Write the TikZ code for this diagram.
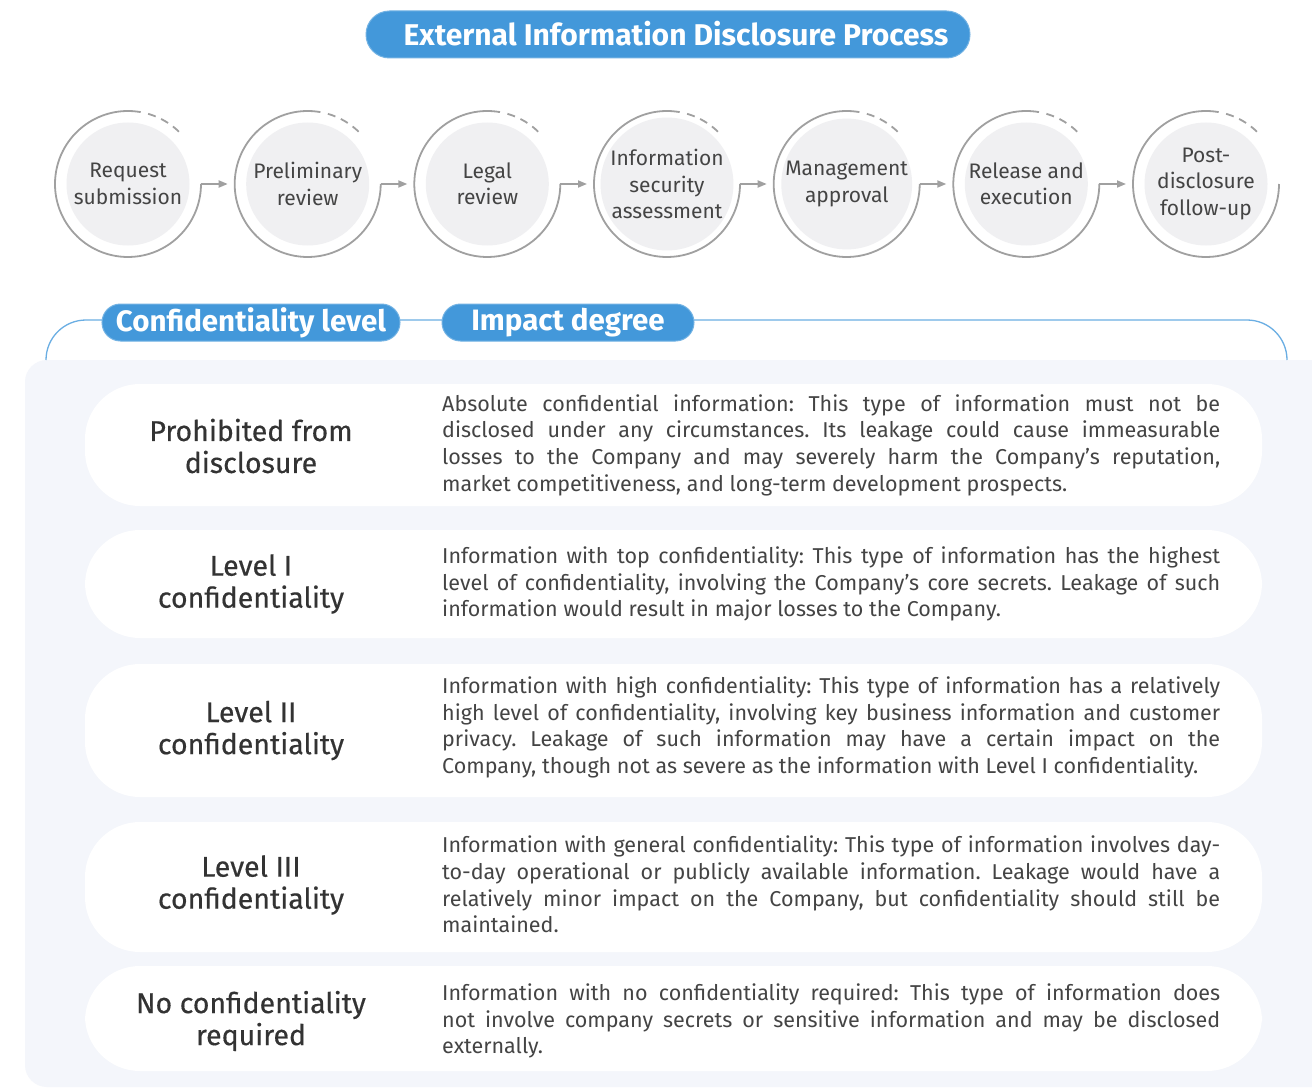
\documentclass[tikz,border=0pt]{standalone}
\usepackage{fontspec}
\setmainfont{Fira Sans}
\newfontfamily\medfont[FakeBold=0.4]{Fira Sans}
\usetikzlibrary{arrows.meta}
\definecolor{mainblue}{HTML}{4398DA}
\definecolor{lineblue}{HTML}{6AAEE3}
\definecolor{panelbg}{HTML}{F4F6FB}
\definecolor{innerfill}{HTML}{F0F0F2}
\definecolor{ringgray}{HTML}{A0A0A0}
\definecolor{txtdark}{HTML}{444444}
\definecolor{lbldark}{HTML}{333333}
\newcommand\jl[1]{\makebox[778pt][s]{#1}}
\frenchspacing
\tikzset{
  ringnode/.style={circle, minimum size=146pt, inner sep=0pt, outer sep=0pt, draw=none},
  innernode/.style={circle, minimum size=123pt, inner sep=0pt, fill=innerfill, text=txtdark, align=center,
     font=\fontsize{21}{26.5}\selectfont},
  ring/.style={draw=ringgray, line width=1.8pt},
  ringdash/.style={draw=ringgray, line width=1.8pt, dash pattern=on 8pt off 6pt},
  steparrow/.style={draw=ringgray, line width=1.8pt, -{Triangle[length=9pt,width=7pt]}},
  pill/.style={fill=mainblue, draw=mainblue!75!white, line width=1pt, text=white, inner sep=0pt,
     font=\fontsize{29.5}{32}\selectfont\bfseries},
  rowbox/.style={fill=white, draw=none, rounded corners=55pt, minimum width=1177pt, inner sep=0pt},
  rowlabel/.style={text=lbldark, align=center, inner sep=0pt, font=\fontsize{28.5}{32}\selectfont\medfont},
  rowtext/.style={text=txtdark, anchor=west, align=left, inner sep=0pt, font=\fontsize{21.5}{26.7}\selectfont\frenchspacing},
}
\begin{document}
\begin{tikzpicture}[x=1pt,y=1pt]
\useasboundingbox (0,0) rectangle (1312,-1089);
\fill[white] (0,0) rectangle (1312,-1089);

% title
\node[pill, rounded corners=23.5pt, minimum width=604pt, minimum height=47pt] (title) at (668,-34.5) {};
\node[text=white, inner sep=0pt, font=\fontsize{30}{32}\selectfont\bfseries] (titletext) at (676,-34) {External Information Disclosure Process};

% process circles
\foreach \n/\x/\t in {1/128/{Request\\submission},
                      2/307.7/{Preliminary\\review},
                      3/487.3/{Legal\\review},
                      4/667/{Information\\security\\assessment},
                      5/846.7/{Management\\approval},
                      6/1026.3/{Release and\\execution},
                      7/1206/{Post-\\disclosure\\follow-up}} {
  \node[ringnode] (c\n) at (\x,-184) {};
  \node[innernode] (i\n) at (\x,-184) {\t};
  \draw[ring] (c\n.80) arc[start angle=80, end angle=360, radius=73pt];
  \draw[ringdash] (c\n.74) arc[start angle=74, end angle=44, radius=73pt];
}
\foreach \a/\b in {1/2,2/3,3/4,4/5,5/6,6/7} {
  \draw[steparrow] (c\a.east) -- ([xshift=-7pt]c\b.west);
}

% panel background
\fill[panelbg, rounded corners=22pt] (25,-360) rectangle (1340,-1087);

% header line
\draw[lineblue, line width=1.3pt, rounded corners=40pt] (46,-360) -- (46,-320) -- (1287,-320) -- (1287,-360);
\node[pill, rounded corners=18.5pt, minimum width=298pt, minimum height=37pt] (cl) at (251,-322.5) {Confidentiality level};
\node[pill, rounded corners=18.5pt, minimum width=252pt, minimum height=37pt] (id) at (568,-322.5) {Impact degree};

% rows
\node[rowbox, minimum height=122pt] (r1) at (673.5,-445) {};
\node[rowlabel] (l1) at (251,-446) {Prohibited from\\disclosure};
\node[rowtext] (t1) at (442,-445) {\jl{Absolute confidential information: This type of information must not be}\\
\jl{disclosed under any circumstances. Its leakage could cause immeasurable}\\
\jl{losses to the Company and may severely harm the Company’s reputation,}\\
market competitiveness, and long-term development prospects.};

\node[rowbox, minimum height=108pt] (r2) at (673.5,-584) {};
\node[rowlabel] (l2) at (251,-584) {Level I\\confidentiality};
\node[rowtext] (t2) at (442,-584) {\jl{Information with top confidentiality: This type of information has the highest}\\
\jl{level of confidentiality, involving the Company’s core secrets. Leakage of such}\\
information would result in major losses to the Company.};

\node[rowbox, minimum height=133pt] (r3) at (673.5,-730.5) {};
\node[rowlabel] (l3) at (251,-730.5) {Level II\\confidentiality};
\node[rowtext] (t3) at (442,-727.5) {\jl{Information with high confidentiality: This type of information has a relatively}\\
\jl{high level of confidentiality, involving key business information and customer}\\
\jl{privacy. Leakage of such information may have a certain impact on the}\\
Company, though not as severe as the information with Level I confidentiality.};

\node[rowbox, minimum height=130pt] (r4) at (673.5,-887) {};
\node[rowlabel] (l4) at (251,-885) {Level III\\confidentiality};
\node[rowtext] (t4) at (442,-884.5) {\jl{Information with general confidentiality: This type of information involves day-}\\
\jl{to-day operational or publicly available information. Leakage would have a}\\
\jl{relatively minor impact on the Company, but confidentiality should still be}\\
maintained.};

\node[rowbox, minimum height=105pt] (r5) at (673.5,-1018.5) {};
\node[rowlabel] (l5) at (251,-1021) {No confidentiality\\required};
\node[rowtext] (t5) at (442,-1021) {\jl{Information with no confidentiality required: This type of information does}\\
\jl{not involve company secrets or sensitive information and may be disclosed}\\
externally.};
\end{tikzpicture}
\end{document}
